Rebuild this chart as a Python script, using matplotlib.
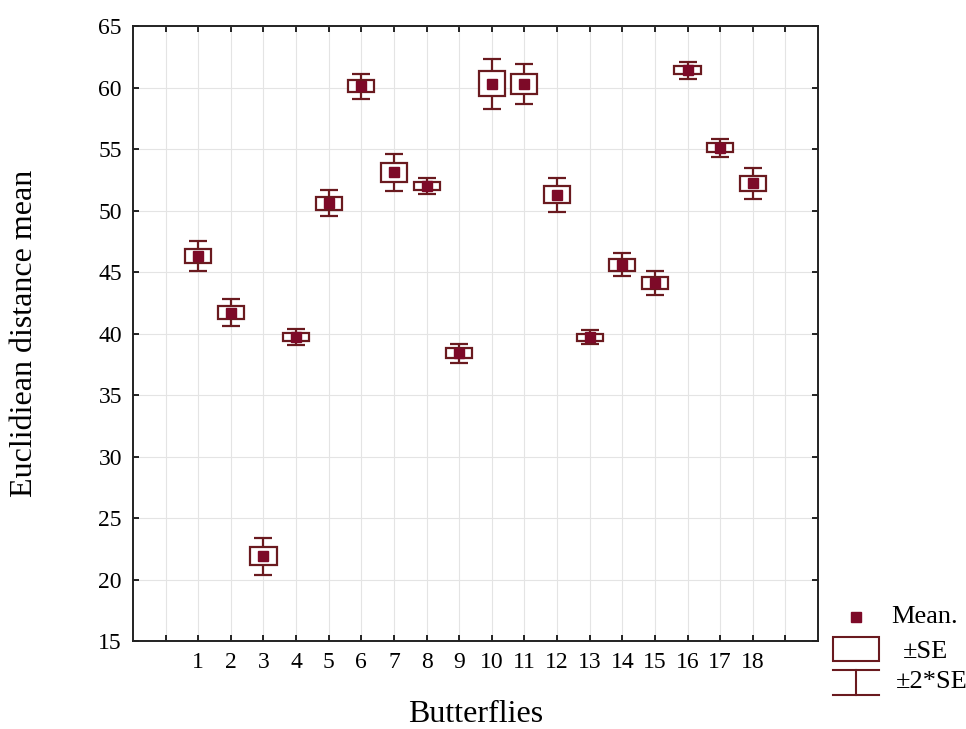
import numpy as np
import matplotlib
matplotlib.use("Agg")
import matplotlib.pyplot as plt
from matplotlib.patches import Rectangle
from matplotlib.lines import Line2D

# values
butterflies = np.arange(1, 19)
means = [46.3, 41.7, 21.9, 39.7, 50.6, 60.1, 53.1, 52.0, 38.4,
         60.3, 60.3, 51.3, 39.7, 45.6, 44.1, 61.4, 55.1, 52.2]
se = [0.6, 0.55, 0.75, 0.33, 0.52, 0.5, 0.75, 0.34, 0.39,
      1.02, 0.82, 0.69, 0.29, 0.48, 0.48, 0.34, 0.36, 0.64]

y_ticks = [15, 20, 25, 30, 35, 40, 45, 50, 55, 60, 65]

plt.rcParams["font.family"] = ["Liberation Serif", "DejaVu Serif"]
edge_col = "#6a1a1f"
mark_col = "#7d0a28"

fig = plt.figure(figsize=(9.66, 7.29), dpi=100)
ax = fig.add_axes([0.1377, 0.1207, 0.7091, 0.8436])

ax.errorbar(butterflies, means, yerr=2 * np.array(se), fmt="none",
            ecolor=edge_col, elinewidth=1.6, capsize=6.5, capthick=1.6, zorder=3)
for x, m, s in zip(butterflies, means, se):
    ax.add_patch(Rectangle((x - 0.4, m - s), 0.8, 2 * s, facecolor="white",
                           edgecolor=edge_col, linewidth=1.6, zorder=4))
ax.plot(butterflies, means, "s", color=mark_col, markersize=7, zorder=5)

ax.set_xlim(-1, 20)
ax.set_ylim(15, 65)
ax.set_xticks(np.arange(0, 20))
ax.set_xticklabels([""] + [str(b) for b in butterflies] + [""])
ax.set_yticks(y_ticks)
ax.tick_params(direction="in", top=True, right=True, labelsize=17,
               length=4, width=1.2, pad=8)
ax.grid(True, color="#e4e4e4", linewidth=0.8)
ax.set_axisbelow(True)
for sp in ax.spines.values():
    sp.set_linewidth(1.4)
    sp.set_color("#222222")

ax.set_xlabel("Butterflies", fontsize=23, va="baseline")
ax.xaxis.set_label_coords(0.5, -0.131)
ax.set_ylabel("Euclidiean distance mean", fontsize=23, va="center")
ax.yaxis.set_label_coords(-0.158, 0.5)

# legend drawn in figure pixel coordinates
W, H = 966, 729
def fx(px): return px / W
def fy(py): return 1 - py / H

fig.add_artist(Line2D([fx(856)], [fy(617)], marker="s", color=mark_col,
                      markersize=6.5, linestyle="none"))
fig.text(fx(891), fy(617), "Mean.", fontsize=19, va="center")
fig.add_artist(Rectangle((fx(833), fy(661)), fx(879) - fx(833), fy(637) - fy(661),
                         facecolor="white", edgecolor=edge_col, linewidth=1.5,
                         transform=fig.transFigure))
fig.text(fx(903), fy(652), "\u00b1SE", fontsize=19, va="center")
for yy in (670, 695):
    fig.add_artist(Line2D([fx(833), fx(879)], [fy(yy), fy(yy)], color=edge_col, linewidth=1.5))
fig.add_artist(Line2D([fx(856), fx(856)], [fy(670), fy(695)], color=edge_col, linewidth=1.5))
fig.text(fx(896), fy(682), "\u00b12*SE", fontsize=19, va="center")

fig.savefig("out.png", dpi=100, facecolor="white")
